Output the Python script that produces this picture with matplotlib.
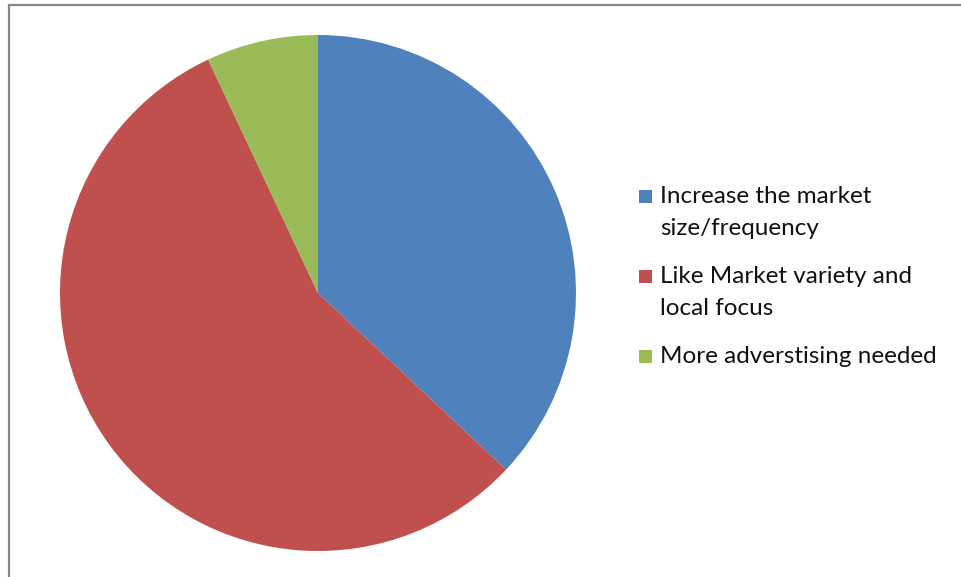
import matplotlib
matplotlib.use('Agg')
import matplotlib.pyplot as plt
from matplotlib.patches import Rectangle

labels = ['Increase the market\nsize/frequency',
          'Like Market variety and\nlocal focus',
          'More adverstising needed']
shares = [37.0, 56.0, 7.0]
colors = ['#4F81BD', '#C0504D', '#9BBB59']

W, H = 961, 577
fig = plt.figure(figsize=(W / 100, H / 100), dpi=100)
fig.patch.set_facecolor('white')

# chart frame (only left and top edges fall inside the image)
fig.patches.append(Rectangle((8.5 / W, -0.1), 1.2, 1.1 - 4.5 / H,
                             transform=fig.transFigure, fill=False,
                             edgecolor='#868686', linewidth=1.6))

cx, cy, r = 318, 293, 258
ax = fig.add_axes([(cx - r) / W, (H - cy - r) / H, 2 * r / W, 2 * r / H])
ax.pie(shares, colors=colors, startangle=90, counterclock=False,
       radius=1.0, wedgeprops=dict(linewidth=0))
ax.set_xlim(-1, 1)
ax.set_ylim(-1, 1)
ax.set_aspect('equal')
ax.axis('off')

# legend: square markers with wrapped text, one text per line
font = ['Lato', 'DejaVu Sans']
baselines = [203, 283, 363]
line_gap = 32
for lab, col, base in zip(labels, colors, baselines):
    fig.patches.append(Rectangle((639 / W, (H - base) / H), 13 / W, 13 / H,
                                 transform=fig.transFigure, facecolor=col,
                                 edgecolor='none'))
    for i, line in enumerate(lab.split('\n')):
        fig.text(660 / W, (H - base - i * line_gap) / H, line, ha='left',
                 va='baseline', fontsize=17.5, family=font, color='#111111')

fig.savefig('out.png', dpi=100)
